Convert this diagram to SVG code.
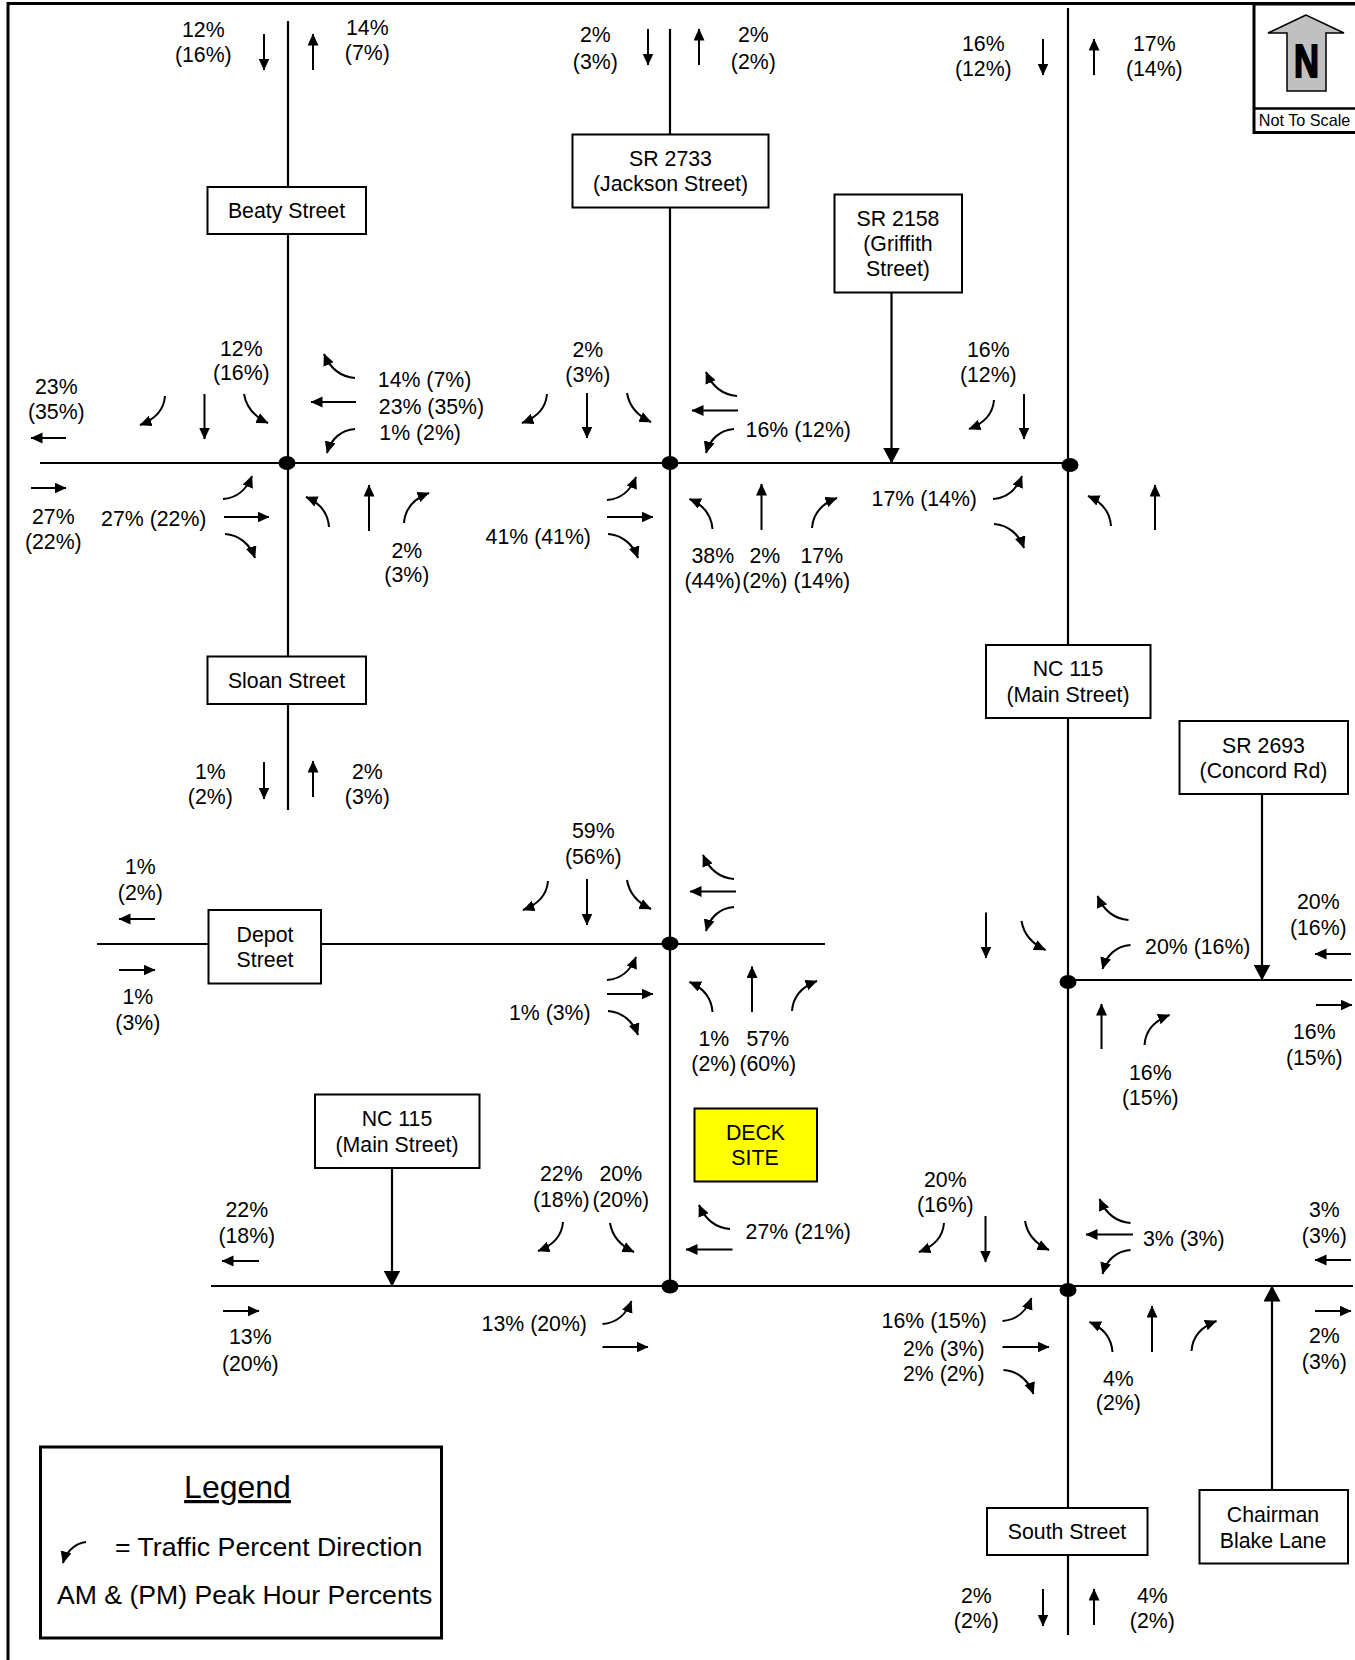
<svg xmlns="http://www.w3.org/2000/svg" width="1355" height="1660" viewBox="0 0 1355 1660">
<style>
text{font-family:"Liberation Sans",Arial,sans-serif;font-size:21.3px;fill:#000;text-anchor:middle}
.s{text-anchor:start}
.road{fill:none;stroke:#000;stroke-width:2.2}
.a{fill:none;stroke:#000;stroke-width:2;marker-end:url(#h)}
.b{fill:none;stroke:#000;stroke-width:2.2;marker-end:url(#H)}
.box{fill:#fff;stroke:#000;stroke-width:2}
.dot{fill:#000}
</style>
<defs>
<marker id="h" markerUnits="userSpaceOnUse" markerWidth="13" markerHeight="12" refX="11.500" refY="5.500" orient="auto"><path d="M0 0L12 5.500L0 11z"/></marker>
<marker id="H" markerUnits="userSpaceOnUse" markerWidth="17" markerHeight="17" refX="15.500" refY="8.500" orient="auto"><path d="M0 0L16 8.500L0 17z"/></marker>
<path id="sr" class="a" d="M0 0c-1 13-9 23-25 29"/>
<path id="sl" class="a" d="M0 0c2 12 9 22 24 29"/>
<path id="wr" class="a" d="M0 0c-13-1-24-8-31-24"/>
<path id="wl" class="a" d="M0 0c-14 1-24 10-28 24"/>
<path id="el" class="a" d="M0 0c13-1 23-8 29-23"/>
<path id="er" class="a" d="M0 0c14 1 25 10 30 24"/>
<path id="nl" class="a" d="M0 0c-1-14-9-24-23-30"/>
<path id="nr" class="a" d="M0 0c1-14 9-24 25-30"/>
</defs>
<rect width="1355" height="1660" fill="#fff"/>
<path id="frame" d="M8 1660V3.500H1355" fill="none" stroke="#000" stroke-width="3"/>
<g id="connectors">
<path class="road" d="M288 21V810M670 29V1286M1068 8V1635M40 463H1070M97 944H825M1068 980H1352M211 1286H1353"/>
<path class="b" d="M891.500 293V463"/>
<path class="b" d="M1262 794V980"/>
<path class="b" d="M392 1168V1286"/>
<path class="b" d="M1272 1490V1286"/>
<path class="a" d="M264 34V70"/><path class="a" d="M313 70V34"/>
<path class="a" d="M648 29V65"/><path class="a" d="M699 65V29"/>
<path class="a" d="M1043 39V75"/><path class="a" d="M1094 75V39"/>
<path class="a" d="M264 762V799"/><path class="a" d="M313 797V761"/>
<path class="a" d="M1043 1589V1626"/><path class="a" d="M1094 1625V1589"/>
<path class="a" d="M66 438H31"/><path class="a" d="M31 488H66"/>
<path class="a" d="M155 919H119"/><path class="a" d="M119 970H155"/>
<path class="a" d="M1351 954H1315"/><path class="a" d="M1316 1005H1352"/>
<path class="a" d="M259 1261H222"/><path class="a" d="M223 1311H259"/>
<path class="a" d="M1351 1260H1315"/><path class="a" d="M1315 1311H1351"/>
<use href="#sr" x="165" y="396"/><path class="a" d="M204.500 394V439"/><use href="#sl" x="244" y="394"/>
<use href="#wr" x="355" y="378"/><path class="a" d="M356 402H311"/><use href="#wl" x="355" y="429"/>
<use href="#el" x="223" y="499"/><path class="a" d="M224 517H269"/><use href="#er" x="225" y="534"/>
<use href="#nl" x="329" y="527"/><path class="a" d="M369 531V485"/><use href="#nr" x="404" y="523"/>
<use href="#sr" x="547" y="394"/><path class="a" d="M587 393V438"/><use href="#sl" x="627" y="393"/>
<use href="#wr" x="737" y="396"/><path class="a" d="M738 410.500H692"/><use href="#wl" x="734" y="429"/>
<use href="#el" x="607" y="500"/><path class="a" d="M607 517H653"/><use href="#er" x="608" y="534"/>
<use href="#nl" x="712.500" y="529"/><path class="a" d="M761.500 530V484"/><use href="#nr" x="812" y="528"/>
<use href="#sr" x="994" y="400"/><path class="a" d="M1024 394V439"/>
<use href="#el" x="993" y="499"/><use href="#er" x="994" y="524"/>
<use href="#nl" x="1111" y="526"/><path class="a" d="M1155 530V485"/>
<use href="#sr" x="548" y="881"/><path class="a" d="M587 879V925"/><use href="#sl" x="627" y="880"/>
<use href="#wr" x="734" y="879"/><path class="a" d="M736 891.500H690"/><use href="#wl" x="734" y="907"/>
<use href="#el" x="607" y="980"/><path class="a" d="M607 994H653"/><use href="#er" x="608" y="1011"/>
<use href="#nl" x="712.500" y="1012"/><path class="a" d="M752 1012V966.500"/><use href="#nr" x="792" y="1011"/>
<path class="a" d="M986 912.500V958"/><use href="#sl" x="1021.500" y="921"/>
<use href="#wr" x="1128.500" y="920"/><use href="#wl" x="1130.500" y="945"/>
<path class="a" d="M1101.500 1049V1004"/><use href="#nr" x="1144.500" y="1045"/>
<use href="#sr" x="563" y="1222"/><use href="#sl" x="610" y="1223"/>
<use href="#wr" x="730" y="1229"/><path class="a" d="M732.500 1249.500H686"/>
<use href="#el" x="602.500" y="1324"/><path class="a" d="M602.500 1347H648"/>
<use href="#sr" x="944" y="1223"/><path class="a" d="M985.500 1216V1262"/><use href="#sl" x="1025" y="1221"/>
<use href="#wr" x="1130.500" y="1223"/><path class="a" d="M1133 1234.500H1086"/><use href="#wl" x="1130.500" y="1250"/>
<use href="#el" x="1002.500" y="1321"/><path class="a" d="M1002.500 1347H1049"/><use href="#er" x="1003.500" y="1370"/>
<use href="#nl" x="1112.500" y="1352"/><path class="a" d="M1152 1352V1306"/><use href="#nr" x="1191.500" y="1351"/>
</g>
<g id="junctions">
<ellipse class="dot" cx="287" cy="463" rx="8.500" ry="7"/>
<ellipse class="dot" cx="670" cy="463" rx="8.500" ry="7"/>
<ellipse class="dot" cx="1070" cy="465" rx="8.500" ry="7"/>
<ellipse class="dot" cx="670" cy="943.500" rx="8.500" ry="7"/>
<ellipse class="dot" cx="1068" cy="982" rx="8.500" ry="7"/>
<ellipse class="dot" cx="670" cy="1286.500" rx="8.500" ry="7"/>
<ellipse class="dot" cx="1068" cy="1290" rx="8.500" ry="7"/>
</g>
<g id="beaty"><rect class="box" x="207.500" y="187" width="158.500" height="47"/><text x="286.500" y="217.500">Beaty Street</text></g>
<g id="jackson"><rect class="box" x="572.500" y="134.500" width="196" height="73"/><text x="670.500" y="165.500">SR 2733</text><text x="670.500" y="191">(Jackson Street)</text></g>
<g id="griffith"><rect class="box" x="834.500" y="194.500" width="127.500" height="98"/><text x="898" y="226">SR 2158</text><text x="898" y="251">(Griffith</text><text x="898" y="276">Street)</text></g>
<g id="sloan"><rect class="box" x="207.500" y="656.500" width="158.500" height="47.500"/><text x="286.500" y="688">Sloan Street</text></g>
<g id="main-north"><rect class="box" x="986" y="645" width="164.500" height="73"/><text x="1068" y="676">NC 115</text><text x="1068" y="702">(Main Street)</text></g>
<g id="concord"><rect class="box" x="1179.500" y="721" width="168.500" height="73"/><text x="1263.500" y="753">SR 2693</text><text x="1263.500" y="778">(Concord Rd)</text></g>
<g id="depot"><rect class="box" x="208.500" y="910" width="112.500" height="73.500"/><text x="265" y="942">Depot</text><text x="265" y="966.500">Street</text></g>
<g id="main-west"><rect class="box" x="315" y="1094.500" width="164.500" height="73.500"/><text x="397" y="1126">NC 115</text><text x="397" y="1152">(Main Street)</text></g>
<g id="deck"><rect x="694.500" y="1108.500" width="122.500" height="73" fill="#ff0" stroke="#000" stroke-width="2"/><text x="755.500" y="1140">DECK</text><text x="755" y="1164.500">SITE</text></g>
<g id="south"><rect class="box" x="987" y="1508" width="160.500" height="47"/><text x="1067" y="1539">South Street</text></g>
<g id="chairman"><rect class="box" x="1199.500" y="1490" width="148.500" height="73.500"/><text x="1273" y="1522">Chairman</text><text x="1273" y="1548">Blake Lane</text></g>
<g id="north">
<rect x="1254" y="4" width="103" height="128.500" fill="#fff" stroke="#000" stroke-width="3"/>
<path d="M1254 108.500H1355" stroke="#000" stroke-width="2.500"/>
<path d="M1306 15L1268 33H1287V91H1326V33H1344z" fill="#c0c0c0" stroke="#000" stroke-width="1.500"/>
<text x="1306.500" y="77" style="font-size:47px;font-weight:bold;stroke:#000;stroke-width:2" textLength="25" lengthAdjust="spacingAndGlyphs">N</text>
<text x="1304.500" y="126" style="font-size:16.200px">Not To Scale</text>
</g>
<g id="legend">
<rect x="40.500" y="1447" width="401" height="191" fill="#fff" stroke="#000" stroke-width="3"/>
<text x="237.500" y="1498" style="font-size:32px;text-decoration:underline">Legend</text>
<path class="a" d="M86 1542c-11 1-20 10-23 21"/>
<text class="s" x="115" y="1556" style="font-size:26.700px">= Traffic Percent Direction</text>
<text class="s" x="57" y="1604" style="font-size:26.600px">AM &amp; (PM) Peak Hour Percents</text>
</g>
<g id="labels" transform="translate(0.300 -0.500)">
<text x="203" y="37">12%</text><text x="203" y="62.500">(16%)</text>
<text x="367" y="35">14%</text><text x="367" y="60.500">(7%)</text>
<text x="595" y="42.500">2%</text><text x="595" y="69">(3%)</text>
<text x="753" y="42.500">2%</text><text x="753" y="69">(2%)</text>
<text x="983" y="51">16%</text><text x="983" y="76.500">(12%)</text>
<text x="1154" y="51">17%</text><text x="1154" y="76.500">(14%)</text>
<text x="241" y="356">12%</text><text x="241" y="380.500">(16%)</text>
<text x="56" y="394">23%</text><text x="56" y="419.500">(35%)</text>
<text class="s" x="377.500" y="387">14% (7%)</text>
<text class="s" x="378.500" y="414">23% (35%)</text>
<text class="s" x="379" y="440">1% (2%)</text>
<text x="53" y="524">27%</text><text x="53" y="549.500">(22%)</text>
<text x="153.500" y="526">27% (22%)</text>
<text x="406.500" y="558">2%</text><text x="406.500" y="582.500">(3%)</text>
<text x="587.500" y="357">2%</text><text x="587.500" y="382">(3%)</text>
<text x="798" y="437.500">16% (12%)</text>
<text x="538" y="544">41% (41%)</text>
<text x="712.500" y="563.500">38%</text><text x="712.500" y="588.500">(44%)</text>
<text x="764.500" y="563.500">2%</text><text x="764.500" y="588.500">(2%)</text>
<text x="821.500" y="563.500">17%</text><text x="821.500" y="588.500">(14%)</text>
<text x="988" y="357">16%</text><text x="988" y="382">(12%)</text>
<text x="924" y="506">17% (14%)</text>
<text x="210" y="779">1%</text><text x="210" y="804.500">(2%)</text>
<text x="367" y="779">2%</text><text x="367" y="804.500">(3%)</text>
<text x="593" y="838.500">59%</text><text x="593" y="864">(56%)</text>
<text x="140" y="874.500">1%</text><text x="140" y="900">(2%)</text>
<text x="137.500" y="1004.500">1%</text><text x="137.500" y="1030">(3%)</text>
<text x="549.500" y="1020.500">1% (3%)</text>
<text x="713.500" y="1046">1%</text><text x="713.500" y="1071.500">(2%)</text>
<text x="767.500" y="1046">57%</text><text x="767.500" y="1071.500">(60%)</text>
<text x="1197.500" y="954">20% (16%)</text>
<text x="1318" y="909.500">20%</text><text x="1318" y="935">(16%)</text>
<text x="1314" y="1039.500">16%</text><text x="1314" y="1065">(15%)</text>
<text x="1150" y="1080">16%</text><text x="1150" y="1105.500">(15%)</text>
<text x="246.500" y="1217.500">22%</text><text x="246.500" y="1243">(18%)</text>
<text x="250" y="1344.500">13%</text><text x="250" y="1371">(20%)</text>
<text x="561" y="1181.500">22%</text><text x="561" y="1207">(18%)</text>
<text x="620.500" y="1181.500">20%</text><text x="620.500" y="1207">(20%)</text>
<text x="798" y="1239.500">27% (21%)</text>
<text x="534" y="1331">13% (20%)</text>
<text x="945" y="1187">20%</text><text x="945" y="1212">(16%)</text>
<text x="1183.500" y="1246">3% (3%)</text>
<text x="1324" y="1217.500">3%</text><text x="1324" y="1243">(3%)</text>
<text x="1324" y="1343.500">2%</text><text x="1324" y="1369">(3%)</text>
<text x="934" y="1328.500">16% (15%)</text>
<text x="943.500" y="1356">2% (3%)</text>
<text x="943.500" y="1381.500">2% (2%)</text>
<text x="1118" y="1386">4%</text><text x="1118" y="1410.500">(2%)</text>
<text x="976" y="1603">2%</text><text x="976" y="1628">(2%)</text>
<text x="1152" y="1603">4%</text><text x="1152" y="1628">(2%)</text>
</g>
</svg>
